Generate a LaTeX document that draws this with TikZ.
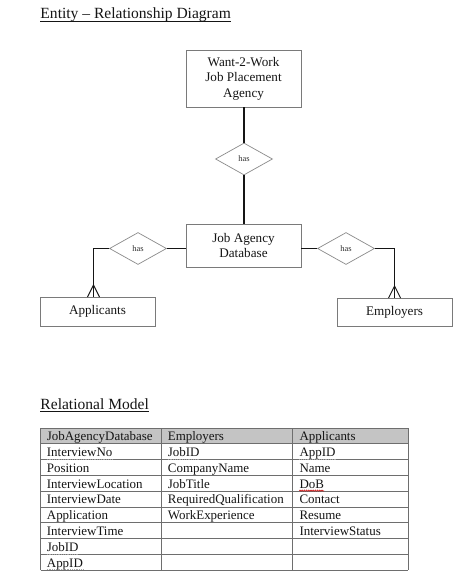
\documentclass[tikz,border=0pt]{standalone}
\usepackage{fontspec}
\setmainfont{Liberation Serif}
\usetikzlibrary{shapes.geometric,decorations.pathmorphing}
\definecolor{boxgray}{HTML}{7A7A7A}
\definecolor{diagray}{HTML}{8A8A8A}
\definecolor{headgray}{HTML}{C4C4C4}
\definecolor{gridgray}{HTML}{6E6E6E}
\definecolor{inkblack}{HTML}{151515}
\begin{document}
\begin{tikzpicture}[x=1bp,y=-1bp,
  entity/.style={draw=boxgray, line width=0.9bp, minimum width=115bp, inner sep=0pt, align=center,
    font=\fontsize{13.2}{15.5}\selectfont, text=inkblack},
  rel/.style={diamond, draw=diagray, line width=0.7bp, minimum width=57bp, minimum height=32bp,
    inner sep=0pt, aspect=1.8, font=\fontsize{8.5}{10}\selectfont, text=black!80},
  conn/.style={line width=1.2bp, inkblack},
  heading/.style={anchor=base west, inner sep=0pt, font=\fontsize{15.6}{18}\selectfont, text=inkblack},
  uline/.style={line width=0.8bp, inkblack},
  cell/.style={anchor=base west, inner sep=0pt, font=\fontsize{13}{15}\selectfont, text=inkblack},
  grid/.style={line width=0.8bp, gridgray},
  spell/.style={line width=0.6bp, gray!70, dash pattern=on 1bp off 0.8bp},
  wavy/.style={line width=0.5bp, red!80!black, decorate, decoration={snake, amplitude=0.7bp, segment length=2.2bp}}
]
\useasboundingbox (0,0) rectangle (474,577);
\fill[white] (0,0) rectangle (474,577);

% headings
\node[heading] (title) at (40.3,18.3) {Entity – Relationship Diagram};
\draw[uline] ([yshift=-2.8bp]title.base west) -- ([yshift=-2.8bp]title.base east);
\node[heading] (reltitle) at (40.3,409) {Relational Model};
\draw[uline] ([yshift=-2.6bp]reltitle.base west) -- ([yshift=-2.6bp]reltitle.base east);

% entities
\node[entity, minimum height=57bp] (agency) at (243.5,78.5) {Want-2-Work\\Job Placement\\Agency};
\node[entity, minimum height=43bp] (jad) at (243.5,245.5) {Job Agency\\Database};
\node[entity, minimum height=29bp] (app) at (97.5,311.5) {Applicants};
\node[entity, minimum height=28bp] (emp) at (394.5,312) {Employers};

% relationships
\node[rel] (d1) at (244,159) {has};
\node[rel] (dl) at (138,248.5) {has};
\node[rel] (dr) at (346,248.5) {has};

% connectors
\draw[conn] (agency.south -| d1.north) -- (d1.north);
\draw[conn] (d1.south) -- (d1.south |- jad.north);
\draw[conn] (jad.west |- dl.east) -- (dl.east);
\draw[conn] (jad.east |- dr.west) -- (dr.west);

\coordinate (ca) at (93.5,297);
\coordinate (ce) at (394.5,298);
\draw[conn] (dl.west) -| (ca);
\draw[conn] (dr.east) -| (ce);
% crow's feet
\draw[line width=0.9bp, inkblack] ([yshift=12bp]ca) -- ([xshift=-6bp]ca)
  ([yshift=12bp]ca) -- ([xshift=6bp]ca);
\draw[line width=0.9bp, inkblack] ([yshift=12bp]ce) -- ([xshift=-6bp]ce)
  ([yshift=12bp]ce) -- ([xshift=6bp]ce);

% table
\fill[headgray] (40.7,428) rectangle (408.3,443.8);
\foreach \i in {0,...,9} \draw[grid] (40.7,{428+15.8*\i}) -- (408.3,{428+15.8*\i});
\foreach \x in {40.7,161,292.7,408.3} \draw[grid] (\x,428) -- (\x,570);

\foreach \t [count=\r from 0] in {JobAgencyDatabase,InterviewNo,Position,InterviewLocation,InterviewDate,Application,InterviewTime,JobID,AppID}
  \node[cell] (a\r) at (46.7,{440.6+15.8*\r}) {\t};
\foreach \t [count=\r from 0] in {Employers,JobID,CompanyName,JobTitle,RequiredQualification,WorkExperience}
  \node[cell] (b\r) at (167.7,{440.6+15.8*\r}) {\t};
\foreach \t [count=\r from 0] in {Applicants,AppID,Name,DoB,Contact,Resume,InterviewStatus}
  \node[cell] (c\r) at (299.3,{440.6+15.8*\r}) {\t};

% proofing marks
\foreach \n in {a1,a7,a8,b1,c1}
  \draw[spell] ([yshift=-2.6bp]\n.base west) -- ([yshift=-2.6bp]\n.base east);
\draw[wavy] ([yshift=-2.6bp]c3.base west) -- ([yshift=-2.6bp]c3.base east);
\end{tikzpicture}
\end{document}
